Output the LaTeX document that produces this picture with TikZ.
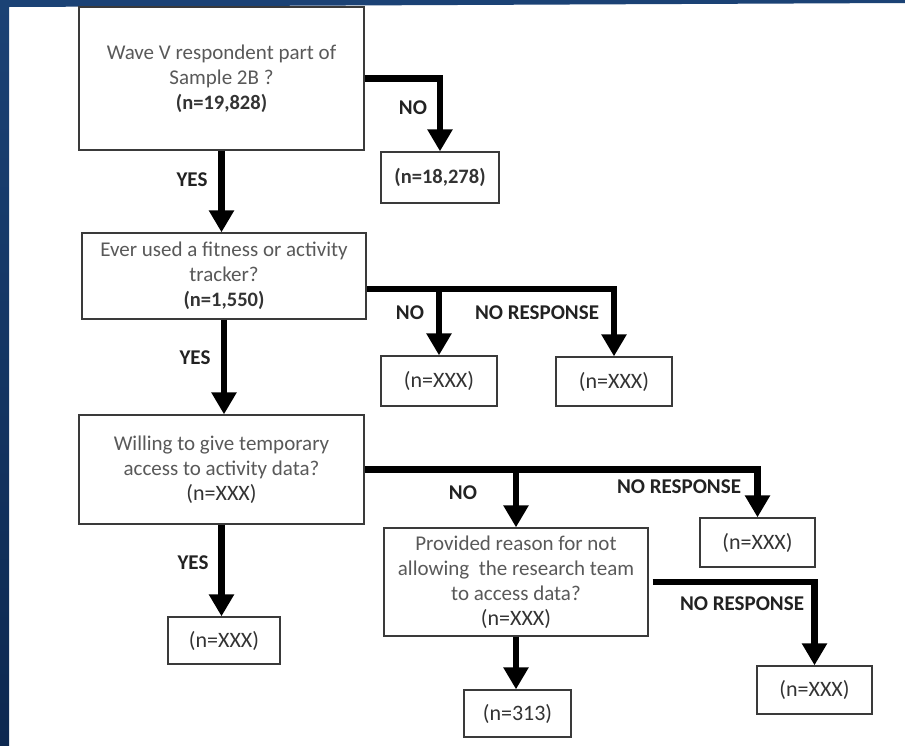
\documentclass[tikz,border=0pt]{standalone}
\usepackage{fontspec}
\setmainfont{Carlito}
\usetikzlibrary{arrows.meta,calc}
\definecolor{bandtop}{HTML}{1B4275}
\definecolor{bandbot}{HTML}{0D2850}
\definecolor{qgray}{HTML}{595959}
\definecolor{ndark}{HTML}{333333}
\definecolor{lbldark}{HTML}{222222}
\definecolor{boxline}{HTML}{3A3A3A}
\begin{document}
\begin{tikzpicture}[x=1pt,y=-1pt,
  box/.style={draw=boxline,line width=1.3pt,fill=white,inner sep=0pt,align=center,
    font=\fontsize{21}{25}\selectfont,text=qgray},
  lbl/.style={font=\fontsize{21}{24}\selectfont\bfseries,text=lbldark,inner sep=0pt},
  flow/.style={line width=6.5pt,draw=black,
    -{Triangle[width=24pt,length=22pt]}}]
\newcommand{\nbold}[1]{{\color{ndark}\fontsize{20.5}{25}\selectfont\bfseries #1}}
\newcommand{\nreg}[1]{{\color{ndark}\fontsize{22}{25}\selectfont #1}}
\useasboundingbox (0,0) rectangle (905,745);
\fill[white] (0,0) rectangle (905,745);
% dark blue frame
\shade[top color=bandtop,bottom color=bandbot] (0,0) rectangle (9,745);
\fill[bandtop] (0,0) -- (905,0) -- (905,3) -- (9,7) -- (0,7) -- cycle;
% boxes
\node[box,minimum width=285pt,minimum height=143pt] (b1) at (221.5,78.5)
  {Wave V respondent part of\\Sample 2B ?\\\nbold{(n=19,828)}};
\node[box,minimum width=118pt,minimum height=51pt] (n1) at (440,177.5)
  {\nbold{(n=18,278)}};
\node[box,minimum width=284pt,minimum height=86pt] (b2) at (224,276)
  {Ever used a fitness or activity\\tracker?\\\nbold{(n=1,550)}};
\node[box,minimum width=116pt,minimum height=50pt] (x2a) at (439,381)
  {\nreg{(n=XXX)}};
\node[box,minimum width=116pt,minimum height=49pt] (x2b) at (614,381.5)
  {\nreg{(n=XXX)}};
\node[box,minimum width=285pt,minimum height=109pt] (b3) at (221.5,469.5)
  {Willing to give temporary\\access to activity data?\\\nreg{(n=XXX)}};
\node[box,minimum width=112pt,minimum height=47pt] (y3) at (224,640.5)
  {\nreg{(n=XXX)}};
\node[box,minimum width=264pt,minimum height=108pt] (b4) at (516,582)
  {Provided reason for not\\allowing\ \ the research team\\to access data?\\\nreg{(n=XXX)}};
\node[box,minimum width=115pt,minimum height=49pt] (x3b) at (757.5,542.5)
  {\nreg{(n=XXX)}};
\node[box,minimum width=107pt,minimum height=47pt] (r4) at (517.5,713.5)
  {\nreg{(n=313)}};
\node[box,minimum width=115pt,minimum height=48pt] (x4b) at (814.5,690)
  {\nreg{(n=XXX)}};
% connectors
\draw[flow] (b1.east) -| (n1.north);
\draw[flow] (b1.south) -- (b1.south |- b2.north);
\coordinate (j2) at ([yshift=-13pt]b2.east);
\draw[flow] (j2) -| (x2b.north);
\draw[flow] (j2 -| x2a.north) -- (x2a.north);
\draw[flow] (b2.south) -- (b2.south |- b3.north);
\draw[flow] (b3.east) -| (x3b.north);
\draw[flow] (b3.east -| b4.north) -- (b4.north);
\draw[flow] (b3.south) -- (b3.south |- y3.north);
\draw[flow] ([xshift=4pt]b4.east) -| (x4b.north);
\draw[flow] (b4.south) -- (b4.south |- r4.north);
% labels
\node[lbl] (lno1) at (413,108) {NO};
\node[lbl] (lyes1) at (192,180) {YES};
\node[lbl] (lno2) at (410,313) {NO};
\node[lbl] (lnr2) at (537,313) {NO RESPONSE};
\node[lbl] (lyes2) at (195,358) {YES};
\node[lbl] (lno3) at (463,493) {NO};
\node[lbl] (lnr3) at (679,487) {NO RESPONSE};
\node[lbl] (lyes3) at (193,563) {YES};
\node[lbl] (lnr4) at (742,604) {NO RESPONSE};
\end{tikzpicture}
\end{document}
